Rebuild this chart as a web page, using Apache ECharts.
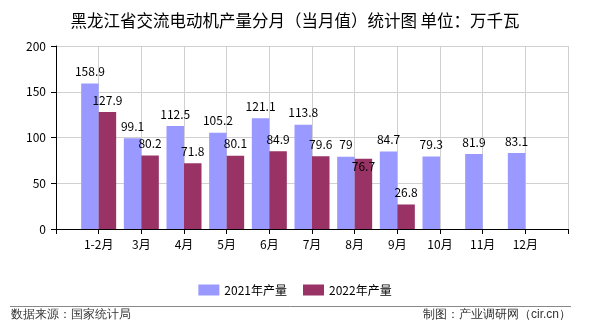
<!DOCTYPE html>
<html><head><meta charset="utf-8">
<script src="https://cdn.jsdelivr.net/npm/echarts@6/dist/echarts.min.js"></script>
<style>html,body{margin:0;padding:0;background:#fff}#c{width:590px;height:330px}</style>
</head><body><div id="c"></div>
<script>
const titleText = '黑龙江省交流电动机产量分月（当月值）统计图 单位：万千瓦';
const categories = ['1-2月','3月','4月','5月','6月','7月','8月','9月','10月','11月','12月'];
const series2021 = [158.9, 99.1, 112.5, 105.2, 121.1, 113.8, 79, 84.7, 79.3, 81.9, 83.1];
const series2022 = [127.9, 80.2, 71.8, 80.1, 84.9, 79.6, 76.7, 26.8, null, null, null];
const seriesNames = ['2021年产量', '2022年产量'];
const yTicks = [0, 50, 100, 150, 200];
const sourceText = '数据来源：国家统计局';
const makerText = '制图：产业调研网（cir.cn）';

const FONT = '"Noto Sans CJK SC", sans-serif';
const cats = [''].concat(categories, ['']);
const pad = arr => [null].concat(arr, [null]);
const d2022 = pad(series2022).map((v, i) => {
  if (cats[i] === '8月') return { value: v, label: { position: 'insideTop', distance: 2 } };
  return v;
});

const chart = echarts.init(document.getElementById('c'), null, { renderer: 'canvas' });
chart.setOption({
  animation: false,
  backgroundColor: '#fff',
  title: {
    text: titleText, left: 'center', top: 7,
    textStyle: { fontSize: 16.5, fontWeight: 'normal', color: '#000', fontFamily: FONT }
  },
  grid: { left: 56, right: 22, top: 46, bottom: 101 },
  legend: {
    data: seriesNames, left: 'center', top: 279,
    itemWidth: 21, itemHeight: 11, itemGap: 16,
    icon: 'rect',
    textStyle: { fontSize: 12, color: '#000', fontFamily: FONT }
  },
  xAxis: {
    type: 'category', data: cats, boundaryGap: false,
    axisLine: { lineStyle: { color: '#000' } },
    axisTick: { show: true, length: 5, lineStyle: { color: '#000' } },
    axisLabel: { color: '#000', fontSize: 12, margin: 9, interval: 0, fontFamily: FONT },
    splitLine: { show: true, lineStyle: { color: '#d0d0d0' } }
  },
  yAxis: {
    type: 'value', min: yTicks[0], max: yTicks[yTicks.length - 1], interval: 50,
    axisLine: { show: true, lineStyle: { color: '#000' } },
    axisTick: { show: true, length: 5, lineStyle: { color: '#000' } },
    axisLabel: { color: '#000', fontSize: 12, margin: 10, fontFamily: FONT },
    splitLine: { show: true, lineStyle: { color: '#d0d0d0' } }
  },
  series: [
    {
      name: seriesNames[0], type: 'bar', data: pad(series2021),
      barWidth: 17.5, barGap: '0%',
      itemStyle: { color: '#9999FF' },
      label: { show: true, position: 'top', distance: 6, color: '#000', fontSize: 12, fontFamily: FONT }
    },
    {
      name: seriesNames[1], type: 'bar', data: d2022,
      barWidth: 17.5, barGap: '0%',
      itemStyle: { color: '#993366' },
      label: { show: true, position: 'top', distance: 6, color: '#000', fontSize: 12, fontFamily: FONT }
    }
  ],
  graphic: [
    { type: 'line', shape: { x1: 10, y1: 306.5, x2: 571, y2: 306.5 }, style: { stroke: '#888', lineWidth: 1 } },
    { type: 'text', left: 11, top: 309, style: { text: sourceText, fontSize: 12, fill: '#333', font: '12px ' + FONT } },
    { type: 'text', right: 19, top: 309, style: { text: makerText, fontSize: 12, fill: '#333', font: '12px ' + FONT } }
  ]
});
</script></body></html>
